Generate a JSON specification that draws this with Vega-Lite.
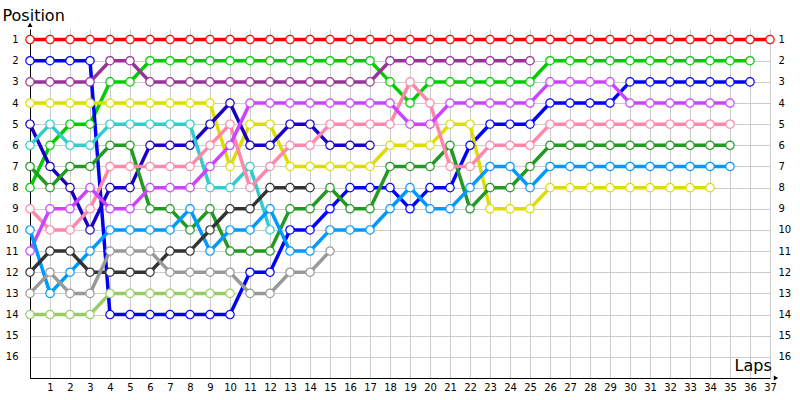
{
  "$schema": "https://vega.github.io/schema/vega-lite/v6.json",
  "width": 740,
  "height": 349,
  "autosize": "none",
  "padding": {"left": 30, "top": 29, "right": 30, "bottom": 22},
  "background": "white",
  "config": {
    "view": {"stroke": null},
    "font": "DejaVu Sans",
    "axis": {"labelFont": "DejaVu Sans", "titleFont": "DejaVu Sans", "labelColor": "#000000", "titleColor": "#000000", "titleFontWeight": "normal", "labelOverlap": false}
  },
  "datasets": {
    "laps": [
    {"driver":"red","lap":0,"pos":1},{"driver":"red","lap":1,"pos":1},{"driver":"red","lap":2,"pos":1},{"driver":"red","lap":3,"pos":1},{"driver":"red","lap":4,"pos":1},{"driver":"red","lap":5,"pos":1},{"driver":"red","lap":6,"pos":1},{"driver":"red","lap":7,"pos":1},{"driver":"red","lap":8,"pos":1},{"driver":"red","lap":9,"pos":1},{"driver":"red","lap":10,"pos":1},{"driver":"red","lap":11,"pos":1},{"driver":"red","lap":12,"pos":1},{"driver":"red","lap":13,"pos":1},{"driver":"red","lap":14,"pos":1},{"driver":"red","lap":15,"pos":1},{"driver":"red","lap":16,"pos":1},{"driver":"red","lap":17,"pos":1},{"driver":"red","lap":18,"pos":1},{"driver":"red","lap":19,"pos":1},{"driver":"red","lap":20,"pos":1},{"driver":"red","lap":21,"pos":1},{"driver":"red","lap":22,"pos":1},{"driver":"red","lap":23,"pos":1},{"driver":"red","lap":24,"pos":1},{"driver":"red","lap":25,"pos":1},{"driver":"red","lap":26,"pos":1},{"driver":"red","lap":27,"pos":1},{"driver":"red","lap":28,"pos":1},{"driver":"red","lap":29,"pos":1},{"driver":"red","lap":30,"pos":1},{"driver":"red","lap":31,"pos":1},{"driver":"red","lap":32,"pos":1},{"driver":"red","lap":33,"pos":1},{"driver":"red","lap":34,"pos":1},{"driver":"red","lap":35,"pos":1},{"driver":"red","lap":36,"pos":1},{"driver":"red","lap":37,"pos":1},
    {"driver":"green","lap":0,"pos":8},{"driver":"green","lap":1,"pos":6},{"driver":"green","lap":2,"pos":5},{"driver":"green","lap":3,"pos":5},{"driver":"green","lap":4,"pos":3},{"driver":"green","lap":5,"pos":3},{"driver":"green","lap":6,"pos":2},{"driver":"green","lap":7,"pos":2},{"driver":"green","lap":8,"pos":2},{"driver":"green","lap":9,"pos":2},{"driver":"green","lap":10,"pos":2},{"driver":"green","lap":11,"pos":2},{"driver":"green","lap":12,"pos":2},{"driver":"green","lap":13,"pos":2},{"driver":"green","lap":14,"pos":2},{"driver":"green","lap":15,"pos":2},{"driver":"green","lap":16,"pos":2},{"driver":"green","lap":17,"pos":2},{"driver":"green","lap":18,"pos":3},{"driver":"green","lap":19,"pos":4},{"driver":"green","lap":20,"pos":3},{"driver":"green","lap":21,"pos":3},{"driver":"green","lap":22,"pos":3},{"driver":"green","lap":23,"pos":3},{"driver":"green","lap":24,"pos":3},{"driver":"green","lap":25,"pos":3},{"driver":"green","lap":26,"pos":2},{"driver":"green","lap":27,"pos":2},{"driver":"green","lap":28,"pos":2},{"driver":"green","lap":29,"pos":2},{"driver":"green","lap":30,"pos":2},{"driver":"green","lap":31,"pos":2},{"driver":"green","lap":32,"pos":2},{"driver":"green","lap":33,"pos":2},{"driver":"green","lap":34,"pos":2},{"driver":"green","lap":35,"pos":2},{"driver":"green","lap":36,"pos":2},
    {"driver":"blue","lap":0,"pos":2},{"driver":"blue","lap":1,"pos":2},{"driver":"blue","lap":2,"pos":2},{"driver":"blue","lap":3,"pos":2},{"driver":"blue","lap":4,"pos":14},{"driver":"blue","lap":5,"pos":14},{"driver":"blue","lap":6,"pos":14},{"driver":"blue","lap":7,"pos":14},{"driver":"blue","lap":8,"pos":14},{"driver":"blue","lap":9,"pos":14},{"driver":"blue","lap":10,"pos":14},{"driver":"blue","lap":11,"pos":12},{"driver":"blue","lap":12,"pos":12},{"driver":"blue","lap":13,"pos":10},{"driver":"blue","lap":14,"pos":10},{"driver":"blue","lap":15,"pos":9},{"driver":"blue","lap":16,"pos":8},{"driver":"blue","lap":17,"pos":8},{"driver":"blue","lap":18,"pos":8},{"driver":"blue","lap":19,"pos":9},{"driver":"blue","lap":20,"pos":8},{"driver":"blue","lap":21,"pos":8},{"driver":"blue","lap":22,"pos":6},{"driver":"blue","lap":23,"pos":5},{"driver":"blue","lap":24,"pos":5},{"driver":"blue","lap":25,"pos":5},{"driver":"blue","lap":26,"pos":4},{"driver":"blue","lap":27,"pos":4},{"driver":"blue","lap":28,"pos":4},{"driver":"blue","lap":29,"pos":4},{"driver":"blue","lap":30,"pos":3},{"driver":"blue","lap":31,"pos":3},{"driver":"blue","lap":32,"pos":3},{"driver":"blue","lap":33,"pos":3},{"driver":"blue","lap":34,"pos":3},{"driver":"blue","lap":35,"pos":3},{"driver":"blue","lap":36,"pos":3},
    {"driver":"purple","lap":0,"pos":3},{"driver":"purple","lap":1,"pos":3},{"driver":"purple","lap":2,"pos":3},{"driver":"purple","lap":3,"pos":3},{"driver":"purple","lap":4,"pos":2},{"driver":"purple","lap":5,"pos":2},{"driver":"purple","lap":6,"pos":3},{"driver":"purple","lap":7,"pos":3},{"driver":"purple","lap":8,"pos":3},{"driver":"purple","lap":9,"pos":3},{"driver":"purple","lap":10,"pos":3},{"driver":"purple","lap":11,"pos":3},{"driver":"purple","lap":12,"pos":3},{"driver":"purple","lap":13,"pos":3},{"driver":"purple","lap":14,"pos":3},{"driver":"purple","lap":15,"pos":3},{"driver":"purple","lap":16,"pos":3},{"driver":"purple","lap":17,"pos":3},{"driver":"purple","lap":18,"pos":2},{"driver":"purple","lap":19,"pos":2},{"driver":"purple","lap":20,"pos":2},{"driver":"purple","lap":21,"pos":2},{"driver":"purple","lap":22,"pos":2},{"driver":"purple","lap":23,"pos":2},{"driver":"purple","lap":24,"pos":2},{"driver":"purple","lap":25,"pos":2},
    {"driver":"yellow","lap":0,"pos":4},{"driver":"yellow","lap":1,"pos":4},{"driver":"yellow","lap":2,"pos":4},{"driver":"yellow","lap":3,"pos":4},{"driver":"yellow","lap":4,"pos":4},{"driver":"yellow","lap":5,"pos":4},{"driver":"yellow","lap":6,"pos":4},{"driver":"yellow","lap":7,"pos":4},{"driver":"yellow","lap":8,"pos":4},{"driver":"yellow","lap":9,"pos":4},{"driver":"yellow","lap":10,"pos":7},{"driver":"yellow","lap":11,"pos":5},{"driver":"yellow","lap":12,"pos":5},{"driver":"yellow","lap":13,"pos":7},{"driver":"yellow","lap":14,"pos":7},{"driver":"yellow","lap":15,"pos":7},{"driver":"yellow","lap":16,"pos":7},{"driver":"yellow","lap":17,"pos":7},{"driver":"yellow","lap":18,"pos":6},{"driver":"yellow","lap":19,"pos":6},{"driver":"yellow","lap":20,"pos":6},{"driver":"yellow","lap":21,"pos":5},{"driver":"yellow","lap":22,"pos":5},{"driver":"yellow","lap":23,"pos":9},{"driver":"yellow","lap":24,"pos":9},{"driver":"yellow","lap":25,"pos":9},{"driver":"yellow","lap":26,"pos":8},{"driver":"yellow","lap":27,"pos":8},{"driver":"yellow","lap":28,"pos":8},{"driver":"yellow","lap":29,"pos":8},{"driver":"yellow","lap":30,"pos":8},{"driver":"yellow","lap":31,"pos":8},{"driver":"yellow","lap":32,"pos":8},{"driver":"yellow","lap":33,"pos":8},{"driver":"yellow","lap":34,"pos":8},
    {"driver":"navy","lap":0,"pos":5},{"driver":"navy","lap":1,"pos":7},{"driver":"navy","lap":2,"pos":8},{"driver":"navy","lap":3,"pos":10},{"driver":"navy","lap":4,"pos":8},{"driver":"navy","lap":5,"pos":8},{"driver":"navy","lap":6,"pos":6},{"driver":"navy","lap":7,"pos":6},{"driver":"navy","lap":8,"pos":6},{"driver":"navy","lap":9,"pos":5},{"driver":"navy","lap":10,"pos":4},{"driver":"navy","lap":11,"pos":6},{"driver":"navy","lap":12,"pos":6},{"driver":"navy","lap":13,"pos":5},{"driver":"navy","lap":14,"pos":5},{"driver":"navy","lap":15,"pos":6},{"driver":"navy","lap":16,"pos":6},{"driver":"navy","lap":17,"pos":6},
    {"driver":"cyan","lap":0,"pos":6},{"driver":"cyan","lap":1,"pos":5},{"driver":"cyan","lap":2,"pos":6},{"driver":"cyan","lap":3,"pos":6},{"driver":"cyan","lap":4,"pos":5},{"driver":"cyan","lap":5,"pos":5},{"driver":"cyan","lap":6,"pos":5},{"driver":"cyan","lap":7,"pos":5},{"driver":"cyan","lap":8,"pos":5},{"driver":"cyan","lap":9,"pos":8},{"driver":"cyan","lap":10,"pos":8},{"driver":"cyan","lap":11,"pos":7},{"driver":"cyan","lap":12,"pos":10},
    {"driver":"forest","lap":0,"pos":7},{"driver":"forest","lap":1,"pos":8},{"driver":"forest","lap":2,"pos":7},{"driver":"forest","lap":3,"pos":7},{"driver":"forest","lap":4,"pos":6},{"driver":"forest","lap":5,"pos":6},{"driver":"forest","lap":6,"pos":9},{"driver":"forest","lap":7,"pos":9},{"driver":"forest","lap":8,"pos":10},{"driver":"forest","lap":9,"pos":9},{"driver":"forest","lap":10,"pos":11},{"driver":"forest","lap":11,"pos":11},{"driver":"forest","lap":12,"pos":11},{"driver":"forest","lap":13,"pos":9},{"driver":"forest","lap":14,"pos":9},{"driver":"forest","lap":15,"pos":8},{"driver":"forest","lap":16,"pos":9},{"driver":"forest","lap":17,"pos":9},{"driver":"forest","lap":18,"pos":7},{"driver":"forest","lap":19,"pos":7},{"driver":"forest","lap":20,"pos":7},{"driver":"forest","lap":21,"pos":6},{"driver":"forest","lap":22,"pos":9},{"driver":"forest","lap":23,"pos":8},{"driver":"forest","lap":24,"pos":8},{"driver":"forest","lap":25,"pos":7},{"driver":"forest","lap":26,"pos":6},{"driver":"forest","lap":27,"pos":6},{"driver":"forest","lap":28,"pos":6},{"driver":"forest","lap":29,"pos":6},{"driver":"forest","lap":30,"pos":6},{"driver":"forest","lap":31,"pos":6},{"driver":"forest","lap":32,"pos":6},{"driver":"forest","lap":33,"pos":6},{"driver":"forest","lap":34,"pos":6},{"driver":"forest","lap":35,"pos":6},
    {"driver":"pink","lap":0,"pos":9},{"driver":"pink","lap":1,"pos":10},{"driver":"pink","lap":2,"pos":10},{"driver":"pink","lap":3,"pos":9},{"driver":"pink","lap":4,"pos":7},{"driver":"pink","lap":5,"pos":7},{"driver":"pink","lap":6,"pos":7},{"driver":"pink","lap":7,"pos":7},{"driver":"pink","lap":8,"pos":7},{"driver":"pink","lap":9,"pos":6},{"driver":"pink","lap":10,"pos":5},{"driver":"pink","lap":11,"pos":8},{"driver":"pink","lap":12,"pos":7},{"driver":"pink","lap":13,"pos":6},{"driver":"pink","lap":14,"pos":6},{"driver":"pink","lap":15,"pos":5},{"driver":"pink","lap":16,"pos":5},{"driver":"pink","lap":17,"pos":5},{"driver":"pink","lap":18,"pos":5},{"driver":"pink","lap":19,"pos":3},{"driver":"pink","lap":20,"pos":4},{"driver":"pink","lap":21,"pos":7},{"driver":"pink","lap":22,"pos":7},{"driver":"pink","lap":23,"pos":6},{"driver":"pink","lap":24,"pos":6},{"driver":"pink","lap":25,"pos":6},{"driver":"pink","lap":26,"pos":5},{"driver":"pink","lap":27,"pos":5},{"driver":"pink","lap":28,"pos":5},{"driver":"pink","lap":29,"pos":5},{"driver":"pink","lap":30,"pos":5},{"driver":"pink","lap":31,"pos":5},{"driver":"pink","lap":32,"pos":5},{"driver":"pink","lap":33,"pos":5},{"driver":"pink","lap":34,"pos":5},{"driver":"pink","lap":35,"pos":5},
    {"driver":"violet","lap":0,"pos":11},{"driver":"violet","lap":1,"pos":9},{"driver":"violet","lap":2,"pos":9},{"driver":"violet","lap":3,"pos":8},{"driver":"violet","lap":4,"pos":9},{"driver":"violet","lap":5,"pos":9},{"driver":"violet","lap":6,"pos":8},{"driver":"violet","lap":7,"pos":8},{"driver":"violet","lap":8,"pos":8},{"driver":"violet","lap":9,"pos":7},{"driver":"violet","lap":10,"pos":6},{"driver":"violet","lap":11,"pos":4},{"driver":"violet","lap":12,"pos":4},{"driver":"violet","lap":13,"pos":4},{"driver":"violet","lap":14,"pos":4},{"driver":"violet","lap":15,"pos":4},{"driver":"violet","lap":16,"pos":4},{"driver":"violet","lap":17,"pos":4},{"driver":"violet","lap":18,"pos":4},{"driver":"violet","lap":19,"pos":5},{"driver":"violet","lap":20,"pos":5},{"driver":"violet","lap":21,"pos":4},{"driver":"violet","lap":22,"pos":4},{"driver":"violet","lap":23,"pos":4},{"driver":"violet","lap":24,"pos":4},{"driver":"violet","lap":25,"pos":4},{"driver":"violet","lap":26,"pos":3},{"driver":"violet","lap":27,"pos":3},{"driver":"violet","lap":28,"pos":3},{"driver":"violet","lap":29,"pos":3},{"driver":"violet","lap":30,"pos":4},{"driver":"violet","lap":31,"pos":4},{"driver":"violet","lap":32,"pos":4},{"driver":"violet","lap":33,"pos":4},{"driver":"violet","lap":34,"pos":4},{"driver":"violet","lap":35,"pos":4},
    {"driver":"sky","lap":0,"pos":10},{"driver":"sky","lap":1,"pos":13},{"driver":"sky","lap":2,"pos":12},{"driver":"sky","lap":3,"pos":11},{"driver":"sky","lap":4,"pos":10},{"driver":"sky","lap":5,"pos":10},{"driver":"sky","lap":6,"pos":10},{"driver":"sky","lap":7,"pos":10},{"driver":"sky","lap":8,"pos":9},{"driver":"sky","lap":9,"pos":11},{"driver":"sky","lap":10,"pos":10},{"driver":"sky","lap":11,"pos":10},{"driver":"sky","lap":12,"pos":9},{"driver":"sky","lap":13,"pos":11},{"driver":"sky","lap":14,"pos":11},{"driver":"sky","lap":15,"pos":10},{"driver":"sky","lap":16,"pos":10},{"driver":"sky","lap":17,"pos":10},{"driver":"sky","lap":18,"pos":9},{"driver":"sky","lap":19,"pos":8},{"driver":"sky","lap":20,"pos":9},{"driver":"sky","lap":21,"pos":9},{"driver":"sky","lap":22,"pos":8},{"driver":"sky","lap":23,"pos":7},{"driver":"sky","lap":24,"pos":7},{"driver":"sky","lap":25,"pos":8},{"driver":"sky","lap":26,"pos":7},{"driver":"sky","lap":27,"pos":7},{"driver":"sky","lap":28,"pos":7},{"driver":"sky","lap":29,"pos":7},{"driver":"sky","lap":30,"pos":7},{"driver":"sky","lap":31,"pos":7},{"driver":"sky","lap":32,"pos":7},{"driver":"sky","lap":33,"pos":7},{"driver":"sky","lap":34,"pos":7},{"driver":"sky","lap":35,"pos":7},
    {"driver":"dark","lap":0,"pos":12},{"driver":"dark","lap":1,"pos":11},{"driver":"dark","lap":2,"pos":11},{"driver":"dark","lap":3,"pos":12},{"driver":"dark","lap":4,"pos":12},{"driver":"dark","lap":5,"pos":12},{"driver":"dark","lap":6,"pos":12},{"driver":"dark","lap":7,"pos":11},{"driver":"dark","lap":8,"pos":11},{"driver":"dark","lap":9,"pos":10},{"driver":"dark","lap":10,"pos":9},{"driver":"dark","lap":11,"pos":9},{"driver":"dark","lap":12,"pos":8},{"driver":"dark","lap":13,"pos":8},{"driver":"dark","lap":14,"pos":8},
    {"driver":"gray","lap":0,"pos":13},{"driver":"gray","lap":1,"pos":12},{"driver":"gray","lap":2,"pos":13},{"driver":"gray","lap":3,"pos":13},{"driver":"gray","lap":4,"pos":11},{"driver":"gray","lap":5,"pos":11},{"driver":"gray","lap":6,"pos":11},{"driver":"gray","lap":7,"pos":12},{"driver":"gray","lap":8,"pos":12},{"driver":"gray","lap":9,"pos":12},{"driver":"gray","lap":10,"pos":12},{"driver":"gray","lap":11,"pos":13},{"driver":"gray","lap":12,"pos":13},{"driver":"gray","lap":13,"pos":12},{"driver":"gray","lap":14,"pos":12},{"driver":"gray","lap":15,"pos":11},
    {"driver":"lime","lap":0,"pos":14},{"driver":"lime","lap":1,"pos":14},{"driver":"lime","lap":2,"pos":14},{"driver":"lime","lap":3,"pos":14},{"driver":"lime","lap":4,"pos":13},{"driver":"lime","lap":5,"pos":13},{"driver":"lime","lap":6,"pos":13},{"driver":"lime","lap":7,"pos":13},{"driver":"lime","lap":8,"pos":13},{"driver":"lime","lap":9,"pos":13},{"driver":"lime","lap":10,"pos":13}
    ],
    "one": [{"a": 1}]
  },
  "resolve": {"axis": {"x": "independent", "y": "independent"}},
  "layer": [
    {
      "data": {"name": "laps"},
      "mark": {"type": "line", "strokeWidth": 3.5},
      "encoding": {
        "x": {"field": "lap", "type": "quantitative",
          "scale": {"domain": [0, 37], "nice": false, "zero": false},
          "axis": {"values": [0,1,2,3,4,5,6,7,8,9,10,11,12,13,14,15,16,17,18,19,20,21,22,23,24,25,26,27,28,29,30,31,32,33,34,35,36,37],
            "labelExpr": "datum.value == 0 ? '' : datum.label", "labelDx": -10, "labelFlush": false, "labelOverlap": false, "labelFontSize": 10, "labelPadding": 4,
            "ticks": false, "grid": true, "gridColor": "#cccccc", "gridWidth": 1,
            "domainColor": "#000000", "domainWidth": 1,
            "title": "Laps", "titleFontSize": 16, "titleX": 704, "titleY": -13, "titleAlign": "left", "titleBaseline": "middle", "titleAnchor": null}},
        "y": {"field": "pos", "type": "quantitative",
          "scale": {"domain": [0.5, 17], "reverse": true, "nice": false, "zero": false},
          "axis": {"orient": "left", "values": [1,2,3,4,5,6,7,8,9,10,11,12,13,14,15,16], "labelFontSize": 10, "labelPadding": 12, "labelFlush": false,
            "ticks": false, "grid": true, "gridColor": "#cccccc", "gridWidth": 1,
            "domainColor": "#000000", "domainWidth": 1,
            "title": "Position", "titleFontSize": 16, "titleAngle": 0, "titleX": -28, "titleY": -14, "titleAlign": "left", "titleBaseline": "middle", "titleAnchor": null}},
        "color": {"field": "driver", "type": "nominal", "legend": null,
          "scale": {"domain": ["red","green","blue","purple","yellow","navy","cyan","forest","pink","violet","sky","dark","gray","lime"],
            "range": ["#ff0000","#00cc00","#0000ff","#993399","#dddd00","#1a00c0","#33cccc","#229922","#ff88aa","#cc44ff","#0099ff","#333333","#999999","#99cc66"]}},
        "order": {"field": "lap", "type": "quantitative"}
      }
    },
    {
      "data": {"name": "laps"},
      "mark": {"type": "point", "shape": "circle", "filled": false, "fill": "white", "fillOpacity": 1, "size": 70, "strokeWidth": 1.2, "opacity": 1},
      "encoding": {
        "x": {"field": "lap", "type": "quantitative", "axis": null},
        "y": {"field": "pos", "type": "quantitative", "axis": {"orient": "right", "values": [1,2,3,4,5,6,7,8,9,10,11,12,13,14,15,16], "labelFontSize": 10, "labelPadding": 8, "labelFlush": false, "ticks": false, "grid": false, "domain": false, "title": null}},
        "color": {"field": "driver", "type": "nominal", "legend": null}
      }
    },
    {
      "data": {"name": "one"},
      "mark": {"type": "point", "shape": "triangle-up", "filled": true, "size": 25, "color": "#000000", "opacity": 1, "clip": false},
      "encoding": {"x": {"datum": 0, "type": "quantitative", "axis": null}, "y": {"datum": 0.3, "type": "quantitative", "axis": null}}
    },
    {
      "data": {"name": "one"},
      "mark": {"type": "point", "shape": "triangle-right", "filled": true, "size": 25, "color": "#000000", "opacity": 1, "clip": false},
      "encoding": {"x": {"datum": 37.3, "type": "quantitative", "axis": null}, "y": {"datum": 17, "type": "quantitative", "axis": null}}
    }
  ]
}
